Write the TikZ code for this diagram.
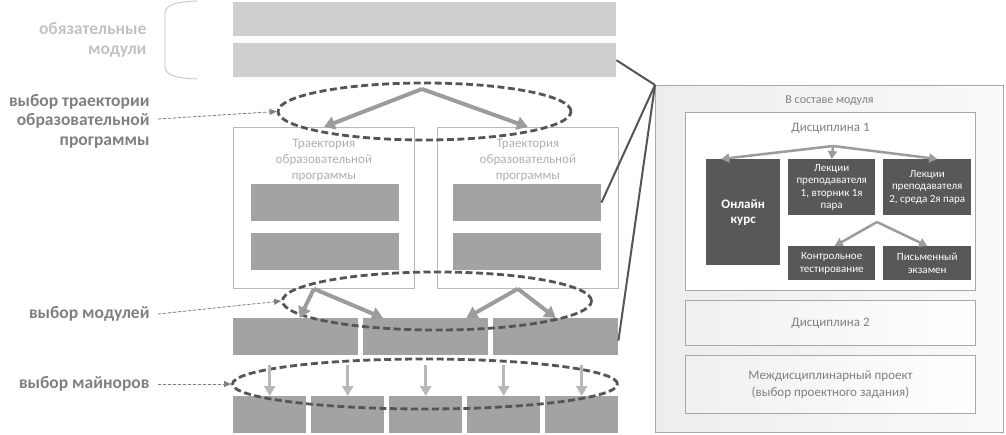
\documentclass[tikz,border=0pt]{standalone}
\usepackage{fontspec}
\setmainfont{Carlito}
\usetikzlibrary{shapes.geometric, arrows.meta, positioning, calc}
\definecolor{ReqGray}{HTML}{CFCFCF}
\definecolor{BarGray}{HTML}{A3A3A3}
\definecolor{DarkBox}{HTML}{585858}
\definecolor{LineGray}{HTML}{555555}
\definecolor{ArrGray}{HTML}{9C9C9C}
\definecolor{MinArr}{HTML}{B8B8B8}
\definecolor{LblGray}{HTML}{808080}
\definecolor{LblLight}{HTML}{C2C2C2}
\definecolor{FrameGray}{HTML}{A8A8A8}

\begin{document}
\begin{tikzpicture}[
    x=1pt, y=-1pt,
    bar/.style={inner sep=0pt, anchor=north west},
    reqbar/.style={bar, fill=ReqGray, minimum width=383pt, minimum height=34pt},
    trajbox/.style={bar, draw=FrameGray!80, line width=0.8pt, minimum width=181pt, minimum height=161pt},
    trajbar/.style={bar, fill=BarGray, minimum width=148pt, minimum height=37pt},
    modbar/.style={bar, fill=BarGray, minimum width=125pt, minimum height=37pt},
    minbar/.style={bar, fill=BarGray, minimum width=73pt, minimum height=37pt},
    choice/.style={ellipse, draw=LineGray, dashed, dash pattern=on 7pt off 3.5pt, line width=2.8pt, inner sep=0pt},
    lbl/.style={anchor=east, align=right, text=LblGray, font=\bfseries\fontsize{17.5}{19.5}\selectfont},
    lblarrow/.style={-{Triangle[length=7pt,width=6pt]}, dashed, dash pattern=on 3pt off 2pt, draw=LblGray, fill=LblGray, line width=0.8pt},
    bigarrow/.style={-{Triangle[length=11pt,width=13pt]}, draw=ArrGray, line width=4pt},
    minarrow/.style={-{Triangle[length=10pt,width=11pt]}, draw=MinArr, line width=3pt},
    panelbox/.style={bar, draw=FrameGray, line width=1pt, left color=gray!12, right color=white},
    darkbox/.style={bar, fill=DarkBox, text=white, align=center, font=\fontsize{11}{12.5}\selectfont},
    panelarrow/.style={-{Triangle[length=8pt,width=9pt]}, draw=ArrGray, line width=2.5pt},
    link/.style={draw=LineGray, line width=2pt}
]
    \useasboundingbox (0,0) rectangle (1006,435);

    % required modules
    \node[reqbar] (req1) at (233,2) {};
    \node[reqbar] (req2) at (233,43) {};
    \draw[LblLight, line width=0.8pt] (197,1) .. controls (172,2) and (165,6) .. (165,14)
        -- (165,66) .. controls (165,74) and (172,78) .. (197,79);
    \node[lbl, text=LblLight] (lblReq) at (150,40) {обязательные\\модули};

    % trajectories
    \node[trajbox] (trajL) at (233,127) {};
    \node[trajbox] (trajR) at (437,127) {};
    \foreach \t in {trajL, trajR}
        \node[anchor=north, align=center, text=LblLight!90!black, font=\fontsize{13}{16}\selectfont]
            at ([yshift=-9pt]\t.north) {Траектория\\образовательной\\программы};
    \node[trajbar] (trajL1) at (251,184) {};
    \node[trajbar] (trajL2) at (251,233) {};
    \node[trajbar] (trajR1) at (453,184) {};
    \node[trajbar] (trajR2) at (453,233) {};

    % modules and minors
    \foreach \i/\x in {1/233, 2/363, 3/493}
        \node[modbar] (mod\i) at (\x,318) {};
    \foreach \i/\x in {1/233, 2/311, 3/389, 4/467, 5/545}
        \node[minbar] (min\i) at (\x,396) {};

    % choices
    \node[choice, minimum width=293pt, minimum height=57pt] (selTraj) at (424.5,111.5) {};
    \node[choice, minimum width=309pt, minimum height=58pt] (selMod) at (437,301) {};
    \node[choice, minimum width=385pt, minimum height=50pt] (selMin) at (425,384) {};

    \coordinate (forkTraj) at (422,89);
    \draw[bigarrow] (forkTraj) -- (trajL.north);
    \draw[bigarrow] (forkTraj) -- (trajR.north);
    \draw[bigarrow] ([xshift=-10pt]trajL.south) -- ([xshift=4pt]mod1.north);
    \draw[bigarrow] ([xshift=-10pt]trajL.south) -- ([xshift=20pt]mod2.north west);
    \draw[bigarrow] ([xshift=-10pt]trajR.south) -- ([xshift=-22pt]mod2.north east);
    \draw[bigarrow] ([xshift=-10pt]trajR.south) -- ([xshift=0pt]mod3.north);
    \foreach \i in {1,...,5}
        \draw[minarrow] ([yshift=31pt]min\i.north) -- (min\i.north);

    % labels
    \node[lbl] (lblTraj) at (153,121) {выбор траектории\\образовательной\\программы};
    \node[lbl] (lblMod) at (153,314) {выбор модулей};
    \node[lbl] (lblMin) at (153,384) {выбор майноров};
    \draw[lblarrow] ([xshift=5pt,yshift=2pt]lblTraj.east) -- (selTraj.west);
    \draw[lblarrow] ([xshift=5pt]lblMod.east) -- (selMod.west);
    \draw[lblarrow] ([xshift=5pt]lblMin.east) -- (selMin.west);

    % module contents
    \node[panelbox, left color=gray!14, right color=gray!4, minimum width=348pt, minimum height=347pt] (panel) at (655,85) {};
    \node[anchor=north, text=LblGray, font=\fontsize{12}{14}\selectfont] at ([yshift=-7pt]panel.north) {В составе модуля};
    \node[bar, draw=FrameGray, line width=1pt, fill=white, minimum width=290pt, minimum height=178pt] (disc1) at (685,112) {};
    \node[anchor=north, text=LblGray, font=\fontsize{13}{15}\selectfont] at ([yshift=-8pt]disc1.north) {Дисциплина 1};
    \node[darkbox, minimum width=74pt, minimum height=106pt, font=\bfseries\fontsize{13}{15}\selectfont] (online) at (706,159) {Онлайн\\курс};
    \node[darkbox, minimum width=87pt, minimum height=56pt] (lect1) at (788,159) {Лекции\\преподавателя\\1, вторник 1я\\пара};
    \node[darkbox, minimum width=88pt, minimum height=56pt] (lect2) at (883,159) {Лекции\\преподавателя\\2, среда 2я пара};
    \node[darkbox, minimum width=87pt, minimum height=34pt] (test) at (788,246) {Контрольное\\тестирование};
    \node[darkbox, minimum width=88pt, minimum height=34pt] (exam) at (883,246) {Письменный\\экзамен};
    \coordinate (forkDisc) at (833,146);
    \draw[panelarrow] (forkDisc) -- ([xshift=-22pt]online.north);
    \draw[panelarrow] (forkDisc) -- ([xshift=10pt]lect2.north);
    \draw[panelarrow] (forkDisc) -- (lect1.north);
    \coordinate (forkCtrl) at (877,222);
    \draw[panelarrow] (forkCtrl) -- ([xshift=3pt]test.north);
    \draw[panelarrow] (forkCtrl) -- (exam.north);
    \node[panelbox, minimum width=290pt, minimum height=45pt, text=LblGray, font=\fontsize{13}{15}\selectfont] (disc2) at (685,300) {Дисциплина 2};
    \node[panelbox, minimum width=290pt, minimum height=58pt, align=center, text=LblGray, font=\fontsize{13}{17}\selectfont] (proj) at (685,355) {Междисциплинарный проект\\(выбор проектного задания)};

    % zoom links
    \draw[link] (req2.east) -- (panel.north west);
    \draw[link] (trajR1.east) -- (panel.north west);
    \draw[link] ([yshift=-4pt]mod3.east) -- (panel.north west);
\end{tikzpicture}
\end{document}
